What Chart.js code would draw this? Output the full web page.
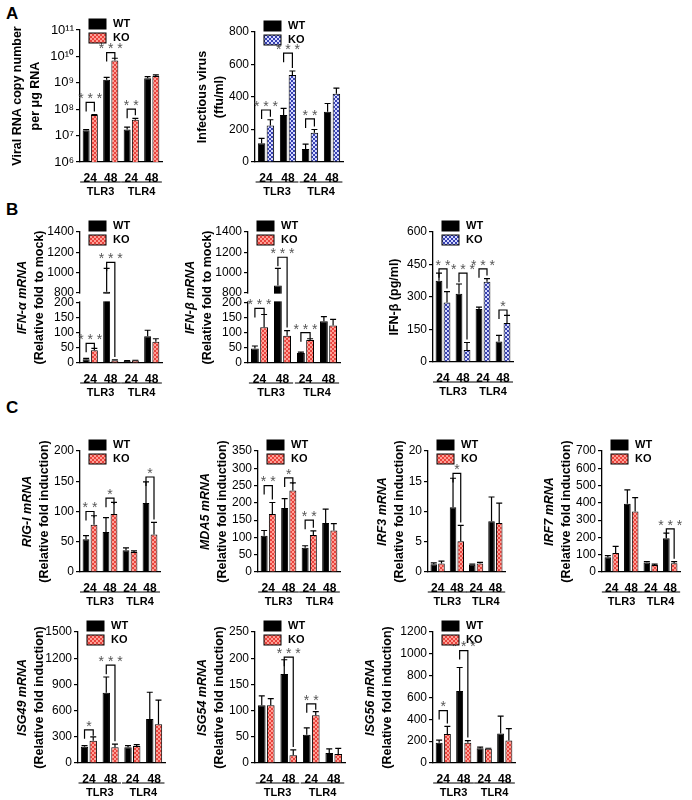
<!DOCTYPE html>
<html><head><meta charset="utf-8">
<script src="https://cdn.jsdelivr.net/npm/chart.js@4"></script>
<style>
body{margin:0;background:#fff;width:692px;height:800px;position:relative;overflow:hidden;font-family:"Liberation Sans",Arial,sans-serif}
canvas{position:absolute}
.lt{position:absolute;font:bold 17px "Liberation Sans",Arial;}
</style></head><body>
<div class="lt" style="left:6px;top:4px">A</div>
<div class="lt" style="left:6px;top:200px">B</div>
<div class="lt" style="left:6px;top:398px">C</div>
<script>
// categories
const cats = ['24', '48', '24', '48'];
const groups = ['TLR3', 'TLR4'];

// A: viral RNA (log) and infectious virus
const rnaWT = [1.6e7, 1.3e9, 1.7e7, 1.5e9], rnaKO = [6e7, 7e9, 4e7, 1.8e9];
const rnaWTErr = [0.1e7, 0.3e9, 0.4e7, 0.2e9], rnaKOErr = [0.3e7, 1.5e9, 0.5e7, 0.2e9];
const virWT = [115, 290, 80, 310], virKO = [225, 535, 180, 420];
const virWTErr = [30, 40, 30, 50], virKOErr = [35, 25, 20, 35];

// B: IFN
const ifnaWT = [12, 810, 7, 88], ifnaKO = [42, 8, 8, 70];
const ifnaWTErr = [3, 230, 1, 20], ifnaKOErr = [6, 2, 1, 10];
const ifnbWT = [48, 870, 33, 138], ifnbKO = [118, 90, 76, 124];
const ifnbWTErr = [8, 170, 3, 15], ifnbKOErr = [42, 17, 4, 20];
const protWT = [375, 315, 245, 95], protKO = [275, 55, 370, 180];
const protWTErr = [35, 45, 8, 28], protKOErr = [50, 35, 15, 35];

// C: ISGs
const rigWT = [54, 66, 36, 114], rigKO = [78, 96, 33, 62];
const rigWTErr = [6, 24, 4, 35], rigKOErr = [15, 19, 2, 20];
const mdaWT = [105, 185, 70, 142], mdaKO = [168, 236, 107, 120];
const mdaWTErr = [15, 27, 6, 40], mdaKOErr = [33, 22, 12, 20];
const irf3WT = [1.3, 10.7, 1.2, 8.4], irf3KO = [1.4, 5.1, 1.4, 8.1];
const irf3WTErr = [0.2, 4.8, 0.1, 4.0], irf3KOErr = [0.4, 2.6, 0.2, 3.3];
const irf7WT = [85, 395, 55, 195], irf7KO = [110, 350, 40, 50];
const irf7WTErr = [10, 80, 5, 30], irf7KOErr = [38, 80, 5, 10];
const isg49WT = [185, 805, 180, 505], isg49KO = [255, 180, 195, 445];
const isg49WTErr = [15, 180, 20, 305], isg49KOErr = [45, 35, 15, 275];
const isg54WT = [110, 170, 54, 19], isg54KO = [110, 15, 91, 17];
const isg54WTErr = [18, 27, 13, 8], isg54KOErr = [13, 10, 7, 11];
const isg56WT = [185, 660, 135, 270], isg56KO = [265, 185, 130, 205];
const isg56WTErr = [25, 215, 10, 160], isg56KOErr = [70, 20, 5, 110];

// broken-axis ticks for IFN mRNA
const brokenTicks = [0, 50, 100, 150, 200, 800, 1000, 1200, 1400];
const brk = v => v <= 200 ? v : 232 + (v - 800) / 3;

function pattern(base, light) {
  const c = document.createElement('canvas'); c.width = c.height = 4;
  const x = c.getContext('2d');
  x.fillStyle = base; x.fillRect(0, 0, 4, 4);
  x.fillStyle = light; x.fillRect(0, 0, 2, 2); x.fillRect(2, 2, 2, 2);
  return x.createPattern(c, 'repeat');
}
const RED = pattern('#e8433d', '#ffa096'), BLUE = pattern('#3640b0', '#d5d9ff');

const panels = [
  { ax: 80, right: 162, top: 30, bottom: 162, wt: rnaWT, ko: rnaKO, we: rnaWTErr, ke: rnaKOErr, log: true, min: 1e6, max: 1e11,
    title: [['Viral RNA copy number', 0], ['per \u03bcg RNA', 0]], tOff: [-62, -44], ko_fill: RED,
    sig: [[0, '***', 1.8e8], [1, '***', 1.4e10], [2, '**', 1.0e8]] },
  { ax: 255, right: 343, top: 32, bottom: 162, wt: virWT, ko: virKO, we: virWTErr, ke: virKOErr, ticks: [0, 200, 400, 600, 800],
    title: [['Infectious virus', 0], ['(ffu/ml)', 0]], tOff: [-52, -35], ko_fill: BLUE,
    sig: [[0, '***', 320], [1, '***', 670], [2, '**', 265]] },
  { ax: 80, right: 162, top: 232, bottom: 363, wt: ifnaWT, ko: ifnaKO, we: ifnaWTErr, ke: ifnaKOErr, broken: true,
    title: [['IFN-\u03b1 mRNA', 1], ['(Relative fold to mock)', 0]], tOff: [-57, -40], ko_fill: RED,
    sig: [[0, '***', 65], [1, '***', 1100]] },
  { ax: 248, right: 340, top: 232, bottom: 363, wt: ifnbWT, ko: ifnbKO, we: ifnbWTErr, ke: ifnbKOErr, broken: true,
    title: [['IFN-\u03b2 mRNA', 1], ['(Relative fold to mock)', 0]], tOff: [-57, -40], ko_fill: RED,
    sig: [[0, '***', 180], [1, '***', 1150], [2, '***', 100]] },
  { ax: 433, right: 513, top: 232, bottom: 362, wt: protWT, ko: protKO, we: protWTErr, ke: protKOErr, ticks: [0, 150, 300, 450, 600],
    title: [['IFN-\u03b2 (pg/ml)', 0]], tOff: [-38], ko_fill: BLUE,
    sig: [[0, '**', 430], [1, '***', 410], [2, '***', 430], [3, '*', 240]] },
  { ax: 80, right: 160, top: 451, bottom: 572, wt: rigWT, ko: rigKO, we: rigWTErr, ke: rigKOErr, ticks: [0, 50, 100, 150, 200],
    title: [['RIG-I mRNA', 1], ['(Relative fold induction)', 0]], tOff: [-52, -35], ko_fill: RED,
    sig: [[0, '**', 100], [1, '*', 122], [3, '*', 157]] },
  { ax: 258, right: 340, top: 451, bottom: 572, wt: mdaWT, ko: mdaKO, we: mdaWTErr, ke: mdaKOErr, ticks: [0, 50, 100, 150, 200, 250, 300, 350],
    title: [['MDA5 mRNA', 1], ['(Relative fold induction)', 0]], tOff: [-52, -35], ko_fill: RED,
    sig: [[0, '**', 250], [1, '*', 272], [2, '**', 150]] },
  { ax: 428, right: 505, top: 451, bottom: 572, wt: irf3WT, ko: irf3KO, we: irf3WTErr, ke: irf3KOErr, ticks: [0, 5, 10, 15, 20],
    title: [['IRF3 mRNA', 1], ['(Relative fold induction)', 0]], tOff: [-45, -28], ko_fill: RED,
    sig: [[1, '*', 16.3]] },
  { ax: 602, right: 680, top: 451, bottom: 572, wt: irf7WT, ko: irf7KO, we: irf7WTErr, ke: irf7KOErr, ticks: [0, 100, 200, 300, 400, 500, 600, 700],
    title: [['IRF7 mRNA', 1], ['(Relative fold induction)', 0]], tOff: [-52, -35], ko_fill: RED,
    sig: [[3, '***', 250]] },
  { ax: 78, right: 165, top: 632, bottom: 763, wt: isg49WT, ko: isg49KO, we: isg49WTErr, ke: isg49KOErr, ticks: [0, 300, 600, 900, 1200, 1500],
    title: [['ISG49 mRNA', 1], ['(Relative fold induction)', 0]], tOff: [-55, -38], ko_fill: RED,
    sig: [[0, '*', 380], [1, '***', 1120]] },
  { ax: 255, right: 345, top: 632, bottom: 763, wt: isg54WT, ko: isg54KO, we: isg54WTErr, ke: isg54KOErr, ticks: [0, 50, 100, 150, 200, 250],
    title: [['ISG54 mRNA', 1], ['(Relative fold induction)', 0]], tOff: [-52, -35], ko_fill: RED,
    sig: [[1, '***', 202], [2, '**', 113]] },
  { ax: 433, right: 515, top: 632, bottom: 763, wt: isg56WT, ko: isg56KO, we: isg56WTErr, ke: isg56KOErr, ticks: [0, 200, 400, 600, 800, 1000, 1200],
    title: [['ISG56 mRNA', 1], ['(Relative fold induction)', 0]], tOff: [-62, -45], ko_fill: RED,
    sig: [[0, '*', 480], [1, '***', 1030]] }
];

const YW = 72, PADT = 18, XH = 42;
const FONT = '"Liberation Sans", Arial, sans-serif';

const decor = {
  id: 'decor',
  afterDatasetsDraw(chart) {
    const p = chart.options.plugins.decor.p, ctx = chart.ctx, y = chart.scales.y, a = chart.chartArea;
    const T = v => p.broken ? brk(v) : v;
    ctx.save();
    if (p.broken) {
      ctx.fillStyle = '#fff';
      ctx.fillRect(a.left - 3, y.getPixelForValue(232) + 1, a.right - a.left + 3, y.getPixelForValue(200) - y.getPixelForValue(232) - 2);
    }
    ctx.strokeStyle = '#000'; ctx.lineWidth = 1.2;
    [[0, p.wt, p.we], [1, p.ko, p.ke]].forEach(([d, vals, errs]) => {
      chart.getDatasetMeta(d).data.forEach((bar, i) => {
        const y0 = y.getPixelForValue(T(vals[i])), y1 = y.getPixelForValue(T(vals[i] + errs[i]));
        ctx.beginPath(); ctx.moveTo(bar.x, y0); ctx.lineTo(bar.x, y1);
        ctx.moveTo(bar.x - 3, y1); ctx.lineTo(bar.x + 3, y1); ctx.stroke();
      });
    });
    p.sig.forEach(([i, stars, lvl]) => {
      const bw = chart.getDatasetMeta(0).data[i], bk = chart.getDatasetMeta(1).data[i];
      const ly = y.getPixelForValue(T(lvl));
      const ky = Math.max(ly + 6, y.getPixelForValue(T(p.ko[i] + p.ke[i])) - 3);
      ctx.beginPath(); ctx.moveTo(bw.x, ly + 9); ctx.lineTo(bw.x, ly); ctx.lineTo(bk.x, ly); ctx.lineTo(bk.x, ky); ctx.stroke();
      ctx.fillStyle = '#555'; ctx.font = '14px ' + FONT; ctx.textAlign = 'center'; ctx.textBaseline = 'bottom';
      ctx.fillText(stars.split('').join(' '), (bw.x + bk.x) / 2, ly + 4);
    });
    ctx.restore();
  },
  afterDraw(chart) {
    const p = chart.options.plugins.decor.p, ctx = chart.ctx, a = chart.chartArea;
    ctx.save();
    // legend
    [['WT', '#000', -11], ['KO', p.ko_fill, 3]].forEach(([t, f, dy]) => {
      ctx.fillStyle = f; ctx.fillRect(a.left + 9, a.top + dy, 17, 10);
      ctx.strokeStyle = '#000'; ctx.lineWidth = 1; ctx.strokeRect(a.left + 9, a.top + dy, 17, 10);
      ctx.fillStyle = '#000'; ctx.font = 'bold 11px ' + FONT; ctx.textAlign = 'left'; ctx.textBaseline = 'middle';
      ctx.fillText(t, a.left + 33, a.top + dy + 5);
    });
    // group lines
    const m0 = chart.getDatasetMeta(0).data, m1 = chart.getDatasetMeta(1).data;
    ctx.lineWidth = 1.2; ctx.strokeStyle = '#000';
    [[0, 1], [2, 3]].forEach(([s, e], g) => {
      const x0 = m0[s].x - 6, x1 = m1[e].x + 6;
      ctx.beginPath(); ctx.moveTo(x0, a.bottom + 20); ctx.lineTo(x1, a.bottom + 20); ctx.stroke();
      ctx.fillStyle = '#000'; ctx.font = 'bold 11px ' + FONT; ctx.textAlign = 'center'; ctx.textBaseline = 'top';
      ctx.fillText(groups[g], (x0 + x1) / 2, a.bottom + 24);
    });
    // y title
    const cy = (a.top + a.bottom) / 2;
    p.title.forEach(([t, it], k) => {
      ctx.save(); ctx.translate(a.left + p.tOff[k], cy); ctx.rotate(-Math.PI / 2);
      ctx.fillStyle = '#000'; ctx.font = (it ? 'italic ' : '') + 'bold 12.5px ' + FONT;
      ctx.textAlign = 'center'; ctx.textBaseline = 'middle';
      ctx.fillText(t, 0, 0);
      ctx.restore();
    });
    ctx.restore();
  }
};

const sup = { '0': '\u2070', '1': '\u00b9', '6': '\u2076', '7': '\u2077', '8': '\u2078', '9': '\u2079' };

panels.forEach(p => {
  const cv = document.createElement('canvas');
  const left = p.ax - YW, top = p.top - PADT;
  cv.width = p.right - left + 4; cv.height = p.bottom - top + XH;
  cv.style.left = left + 'px'; cv.style.top = top + 'px';
  document.body.appendChild(cv);
  const T = v => p.broken ? brk(v) : v;
  let yScale;
  const tickFont = { family: FONT, size: 12 };
  const common = {
    border: { color: '#000', width: 1.3 },
    grid: { display: true, drawOnChartArea: false, drawTicks: true, tickLength: 4, color: '#000', lineWidth: 1.2 },
    afterFit: s => { s.width = YW; }
  };
  if (p.log) {
    yScale = Object.assign({ type: 'logarithmic', min: p.min, max: p.max,
      afterBuildTicks: s => { s.ticks = [6, 7, 8, 9, 10, 11].map(e => ({ value: Math.pow(10, e) })); },
      ticks: { font: { family: FONT, size: 13 }, color: '#000', padding: 2, autoSkip: false,
        callback: v => '10' + String(Math.round(Math.log10(v))).split('').map(c => sup[c]).join('') } }, common);
  } else if (p.broken) {
    yScale = Object.assign({ type: 'linear', min: 0, max: brk(1400),
      afterBuildTicks: s => { s.ticks = brokenTicks.map(v => ({ value: brk(v) })); },
      ticks: { font: tickFont, color: '#000', padding: 2, autoSkip: false,
        callback: v => { const k = brokenTicks.findIndex(t => Math.abs(brk(t) - v) < 0.01); return k < 0 ? '' : String(brokenTicks[k]); } } }, common);
  } else {
    yScale = Object.assign({ type: 'linear', min: 0, max: p.ticks[p.ticks.length - 1],
      afterBuildTicks: s => { s.ticks = p.ticks.map(v => ({ value: v })); },
      ticks: { font: tickFont, color: '#000', padding: 2, autoSkip: false, callback: v => String(v) } }, common);
  }
  new Chart(cv, {
    type: 'bar',
    data: {
      labels: cats,
      datasets: [
        { label: 'WT', data: p.wt.map(T), backgroundColor: '#000', borderColor: '#000', borderWidth: 1 },
        { label: 'KO', data: p.ko.map(T), backgroundColor: p.ko_fill, borderColor: '#000', borderWidth: 1 }
      ]
    },
    options: {
      responsive: false, animation: false, devicePixelRatio: 1,
      layout: { padding: { top: PADT, right: 4, left: 0, bottom: 0 } },
      categoryPercentage: 0.8, barPercentage: 0.85,
      scales: {
        x: { border: { color: '#000', width: 1.3 }, grid: { display: false },
          ticks: { font: { family: FONT, size: 12, weight: 'bold' }, color: '#000', padding: 1,
            maxRotation: 0, minRotation: 0, autoSkip: false },
          afterFit: s => { s.height = XH; } },
        y: yScale
      },
      plugins: { legend: { display: false }, tooltip: { enabled: false }, decor: { p } }
    },
    plugins: [decor]
  });
});
</script>
</body></html>
